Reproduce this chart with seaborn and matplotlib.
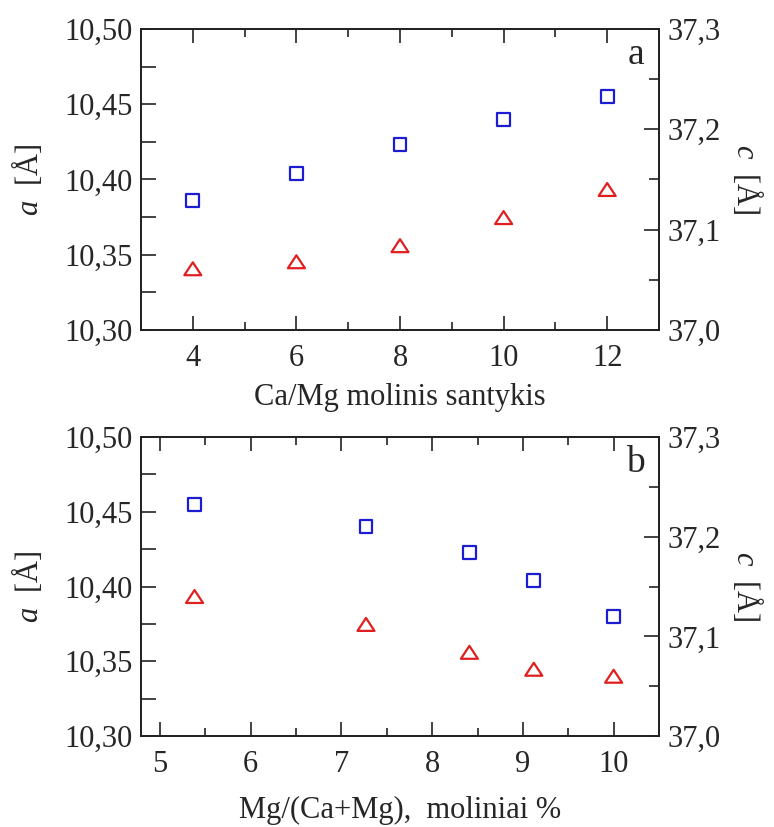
import matplotlib
matplotlib.use("Agg")
import matplotlib.pyplot as plt
import seaborn as sns
import numpy as np
import pandas as pd
from matplotlib.ticker import FuncFormatter, MultipleLocator
from matplotlib.path import Path

# ---- data ----
ratio_x = [4, 6, 8, 10, 12]
ratio_a = [10.386, 10.404, 10.423, 10.440, 10.455]
ratio_c = [37.061, 37.068, 37.084, 37.112, 37.140]

mg_x = [5.38, 7.27, 8.41, 9.12, 10.0]
mg_a = [10.455, 10.440, 10.423, 10.404, 10.380]
mg_c = [37.140, 37.112, 37.084, 37.067, 37.060]

xlabel_top = "Ca/Mg molinis santykis"
xlabel_bot = "Mg/(Ca+Mg),  moliniai %"
panel_letters = ["a", "b"]

sns.set_style("ticks")
plt.rcParams['font.family'] = ['Liberation Serif', 'DejaVu Serif']
plt.rcParams['mathtext.fontset'] = 'custom'
plt.rcParams['mathtext.it'] = 'Liberation Serif:italic'
plt.rcParams['mathtext.rm'] = 'Liberation Serif'

BLUE = '#1c1cd2'
RED = '#e01f1f'
FS = 22
tri = Path([(-1, -0.76), (1, -0.76), (0, 0.76), (-1, -0.76)],
           [Path.MOVETO, Path.LINETO, Path.LINETO, Path.CLOSEPOLY])

fig = plt.figure(figsize=(7.74, 8.27), dpi=100)
left, width = 0.1822, 0.6692
ax1 = fig.add_axes([left, 0.6010, width, 0.3640])
ax2 = fig.add_axes([left, 0.1100, width, 0.3615])

comma = lambda fmt: FuncFormatter(lambda v, p: (fmt % v).replace('.', ','))

def panel(ax, x, a, c, xlim, xmaj, xmin, xlabel, letter, xlabelpad):
    df = pd.DataFrame({"x": x, "a": a, "c": c})
    sns.scatterplot(data=df, x="x", y="a", ax=ax, marker='s', s=85,
                    facecolor='none', edgecolor=BLUE, linewidth=1.6, zorder=3)
    axr = ax.twinx()
    sns.scatterplot(data=df, x="x", y="c", ax=axr, marker=tri, s=150,
                    facecolor='none', edgecolor=RED, linewidth=1.6, zorder=3)
    ax.set_xlim(*xlim)
    ax.set_ylim(10.30, 10.50)
    axr.set_ylim(37.0, 37.3)
    ax.xaxis.set_major_locator(MultipleLocator(xmaj))
    ax.xaxis.set_minor_locator(MultipleLocator(xmin))
    ax.yaxis.set_major_locator(MultipleLocator(0.05))
    ax.yaxis.set_minor_locator(MultipleLocator(0.025))
    axr.yaxis.set_major_locator(MultipleLocator(0.1))
    axr.yaxis.set_minor_locator(MultipleLocator(0.05))
    ax.yaxis.set_major_formatter(comma('%.2f'))
    axr.yaxis.set_major_formatter(comma('%.1f'))
    ax.xaxis.set_major_formatter(FuncFormatter(lambda v, p: '%d' % round(v)))
    ax.tick_params(axis='x', which='both', direction='in', top=True, bottom=True,
                   labelsize=FS, pad=10, color='#222222', width=1.2)
    ax.tick_params(axis='x', which='major', length=10)
    ax.tick_params(axis='x', which='minor', length=6)
    ax.tick_params(axis='y', which='both', direction='in', left=True, right=False,
                   labelsize=FS, pad=6, color='#222222', width=1.2, length=11)
    axr.tick_params(axis='y', which='both', direction='in', right=True, left=False,
                    labelsize=FS, pad=6, color='#222222', width=1.2)
    axr.tick_params(axis='y', which='major', length=11)
    axr.tick_params(axis='y', which='minor', length=7)
    for a_ in (ax, axr):
        for sp in a_.spines.values():
            sp.set_visible(True)
            sp.set_linewidth(1.3)
            sp.set_color('#222222')
    ax.set_xlabel(xlabel, fontsize=FS, labelpad=xlabelpad)
    ax.set_ylabel(r'$a$  [Å]', fontsize=FS, labelpad=14)
    axr.set_ylabel(r'$c$  [Å]', fontsize=FS, rotation=-90, labelpad=32)
    ax.text(0.955, 0.915, letter, transform=ax.transAxes, fontsize=27,
            ha='center', va='center')
    for a_ in (ax, axr):
        leg = a_.get_legend()
        if leg:
            leg.remove()

panel(ax1, ratio_x, ratio_a, ratio_c, (3, 13), 2, 1, xlabel_top, panel_letters[0], 7)
panel(ax2, mg_x, mg_a, mg_c, (4.79, 10.5), 1, 0.5, xlabel_bot, panel_letters[1], 12)

fig.savefig("out.png", dpi=100)
